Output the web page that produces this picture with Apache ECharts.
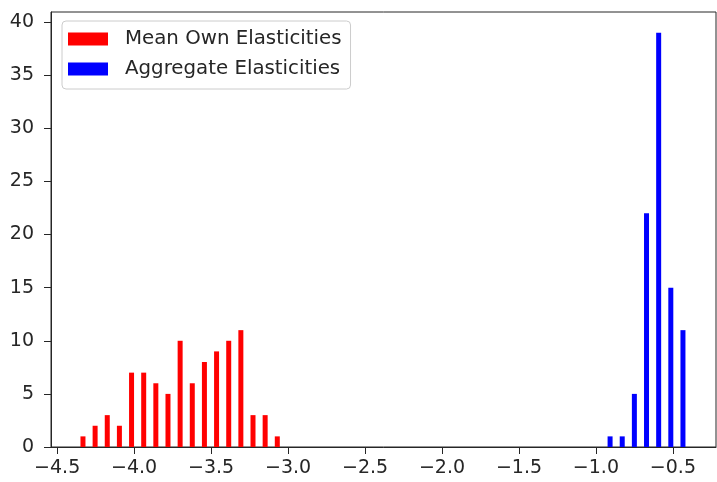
<!DOCTYPE html>
<html>
<head>
<meta charset="utf-8">
<script src="https://cdn.jsdelivr.net/npm/echarts@6/dist/echarts.min.js"></script>
<style>
  html, body { margin: 0; padding: 0; background: #fff; }
  #hist { width: 717px; height: 482px; }
</style>
</head>
<body>
<div id="hist"></div>
<script>
// histogram bins (50 bins shared by both datasets)
var binStart = -4.356;
var binWidth = 0.0789;

// Mean own elasticities: counts for bins 0..16
var ownFirstBin = 0;
var ownCounts = [1, 2, 3, 2, 7, 7, 6, 5, 10, 6, 8, 9, 10, 11, 3, 3, 1];

// Aggregate elasticities: counts for bins 43..49
var aggFirstBin = 43;
var aggCounts = [1, 1, 5, 22, 39, 15, 11];

var xTicks = [-4.5, -4.0, -3.5, -3.0, -2.5, -2.0, -1.5, -1.0, -0.5];
var yTicks = [0, 5, 10, 15, 20, 25, 30, 35, 40];

// side by side bars inside each bin, like matplotlib does for two datasets
function toPoints(first, counts, shift) {
    return counts.map(function (c, i) {
        return [binStart + (first + i + shift) * binWidth, c];
    });
}

var font = 'DejaVu Sans';
var ink = '#262626';
var fs = 19;

var chart = echarts.init(document.getElementById('hist'));
var option = {
    animation: false,
    grid: {
        left: 51, right: 1, top: 12, bottom: 35,
        show: true,
        borderColor: ink,
        borderWidth: 1
    },
    legend: {
        orient: 'vertical',
        left: 62,
        top: 21,
        padding: [8, 9, 10, 6],
        itemGap: 10,
        itemWidth: 40,
        itemHeight: 13,
        icon: 'rect',
        borderColor: '#ccc',
        borderWidth: 1,
        borderRadius: 4,
        backgroundColor: 'rgba(255,255,255,0.8)',
        textStyle: { fontFamily: font, fontSize: 19.8, color: ink, lineHeight: 17, padding: [0, 0, 0, 12] },
        data: ['Mean Own Elasticities', 'Aggregate Elasticities']
    },
    xAxis: {
        type: 'value',
        min: -4.54,
        max: -0.22,
        splitLine: { show: false },
        axisLine: { lineStyle: { color: ink, width: 1 } },
        axisTick: { length: 7, lineStyle: { color: ink }, customValues: xTicks },
        axisLabel: {
            customValues: xTicks,
            margin: 12,
            fontFamily: font,
            fontSize: fs,
            color: ink,
            formatter: function (v) { return v.toFixed(1).replace('-', '\u2212'); }
        }
    },
    yAxis: {
        type: 'value',
        min: 0,
        max: 40.95,
        splitLine: { show: false },
        axisLine: { show: true, lineStyle: { color: ink, width: 1 } },
        axisTick: { show: true, length: 7, lineStyle: { color: ink }, customValues: yTicks },
        axisLabel: {
            customValues: yTicks,
            margin: 17,
            fontFamily: font,
            fontSize: fs,
            color: ink
        }
    },
    series: [
        {
            name: 'Mean Own Elasticities',
            type: 'bar',
            barWidth: 5,
            barGap: '-100%',
            itemStyle: { color: '#ff0000' },
            data: toPoints(ownFirstBin, ownCounts, 0.3)
        },
        {
            name: 'Aggregate Elasticities',
            type: 'bar',
            barWidth: 5,
            barGap: '-100%',
            itemStyle: { color: '#0000ff' },
            data: toPoints(aggFirstBin, aggCounts, 0.7)
        }
    ]
};
chart.setOption(option);
</script>
</body>
</html>
